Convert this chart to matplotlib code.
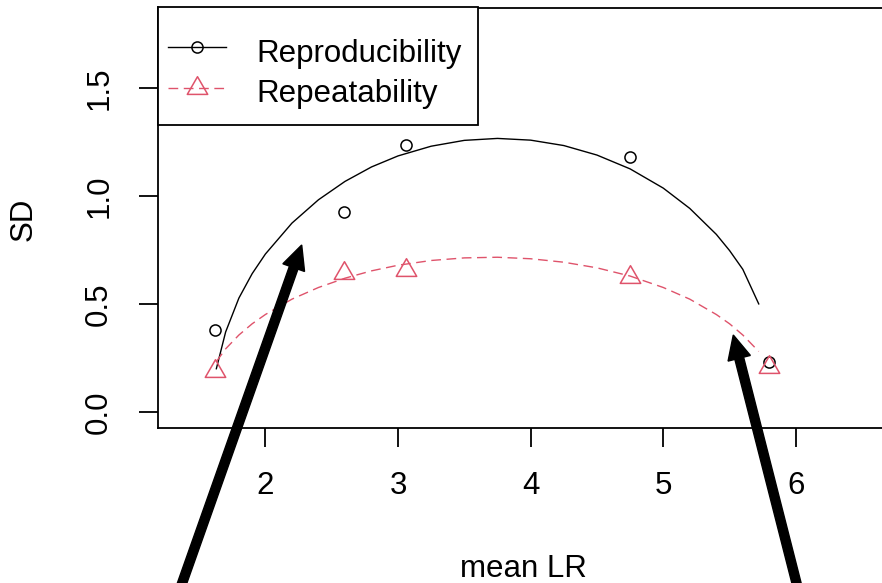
import matplotlib
matplotlib.use("Agg")
import matplotlib.pyplot as plt
from matplotlib.lines import Line2D
from matplotlib.patches import Rectangle, FancyArrow
from matplotlib.path import Path
from matplotlib.transforms import IdentityTransform

plt.rcParams["font.family"] = ["Liberation Sans", "DejaVu Sans"]

# -------------------------------
# DATA
# -------------------------------
mean_lr = [1.62, 2.59, 3.06, 4.75, 5.80]
sd_reproducibility = [0.38, 0.925, 1.235, 1.18, 0.23]
sd_repeatability = [0.19, 0.645, 0.655, 0.625, 0.21]

# fitted curves
curve_x = [1.63, 1.7, 1.8, 1.9, 2.0, 2.2, 2.4, 2.6, 2.8, 3.0, 3.25, 3.5,
           3.75, 4.0, 4.25, 4.5, 4.75, 5.0, 5.2, 5.4, 5.5, 5.6, 5.72]
curve_reproducibility = [0.20, 0.37, 0.527, 0.64, 0.731, 0.874, 0.982, 1.067,
                         1.134, 1.185, 1.230, 1.257, 1.266, 1.258, 1.233,
                         1.189, 1.125, 1.036, 0.942, 0.822, 0.747, 0.660, 0.50]
curve_repeatability = [0.233, 0.292, 0.356, 0.408, 0.451, 0.522, 0.576, 0.619,
                       0.653, 0.679, 0.701, 0.713, 0.716, 0.709, 0.693, 0.667,
                       0.629, 0.576, 0.522, 0.451, 0.408, 0.356, 0.28]

x_ticks = [2, 3, 4, 5, 6]
y_ticks = [0.0, 0.5, 1.0, 1.5]
y_tick_labels = ["0.0", "0.5", "1.0", "1.5"]
series_labels = ["Reproducibility", "Repeatability"]

PINK = "#DF536B"
FS = 22.5
W, H = 882, 583


def fx(px):
    return px / W


def fy(py):
    return 1 - py / H


# R style triangle (pch = 2), centroid at the point
tri = Path([(0, 1.0), (0.866, -0.5), (-0.866, -0.5), (0, 1.0)],
           [Path.MOVETO, Path.LINETO, Path.LINETO, Path.CLOSEPOLY])

fig = plt.figure(figsize=(W / 100, H / 100), dpi=100)
ax = fig.add_axes([fx(158), fy(427.7), 797 / W, (427.7 - 7.5) / H])

ax.plot(curve_x, curve_reproducibility, color="black", lw=1.0)
ax.plot(curve_x, curve_repeatability, color=PINK, lw=1.0, dashes=(7, 4))
ax.plot(mean_lr, sd_reproducibility, ls="none", marker="o", ms=8.0,
        mfc="none", mec="black", mew=1.1)
ax.plot(mean_lr, sd_repeatability, ls="none", marker=tri, ms=17,
        mfc="none", mec=PINK, mew=1.1)

ax.set_xlim(1.19, 7.2)
ax.set_ylim(-0.073, 1.872)
ax.set_xticks(x_ticks)
ax.set_yticks(y_ticks)
ax.set_yticklabels(y_tick_labels)
ax.tick_params(direction="out", length=13.5, width=1.3, pad=18,
               labelsize=FS, colors="black")
for lab in ax.get_yticklabels():
    lab.set_rotation(90)
    lab.set_va("center")
for sp in ax.spines.values():
    sp.set_linewidth(1.3)
ax.spines["right"].set_visible(False)

fig.text(fx(24), fy(219), "SD", rotation=90, ha="center", va="center",
         fontsize=FS)
fig.text(fx(523), fy(577), "mean LR", ha="center", va="baseline",
         fontsize=FS)

# -------------------------------
# LEGEND (R style box, top left)
# -------------------------------
fig.add_artist(Rectangle((fx(158), fy(125)), fx(478) - fx(158),
                         (125 - 7.5) / H, transform=fig.transFigure,
                         facecolor="white", edgecolor="black", lw=1.3,
                         zorder=3))
rows = [(46.7, 61.7), (88.3, 101.7)]
styles = [dict(color="black", marker="o", ms=8.0, ls="-"),
          dict(color=PINK, marker=tri, ms=17, dashes=(7, 4))]
for (ly, by), lab, st in zip(rows, series_labels, styles):
    fig.add_artist(Line2D([fx(168), fx(197), fx(226)], [fy(ly)] * 3,
                          transform=fig.transFigure, lw=1.0, mfc="none",
                          mew=1.1, markevery=[1], zorder=4, **st))
    fig.text(fx(256), fy(by), lab, ha="left", va="baseline", fontsize=FS,
             zorder=4)

# -------------------------------
# ARROWS
# -------------------------------
arrows = [((162, 640), (301.7, 245)), ((811, 640), (733.3, 335))]
for (tx, ty), (hx, hy) in arrows:
    fig.add_artist(FancyArrow(tx, H - ty, hx - tx, ty - hy, width=9,
                              head_width=23, head_length=24,
                              length_includes_head=True, color="black",
                              transform=IdentityTransform(), clip_on=False,
                              zorder=5))

fig.savefig("out.png", dpi=100)
